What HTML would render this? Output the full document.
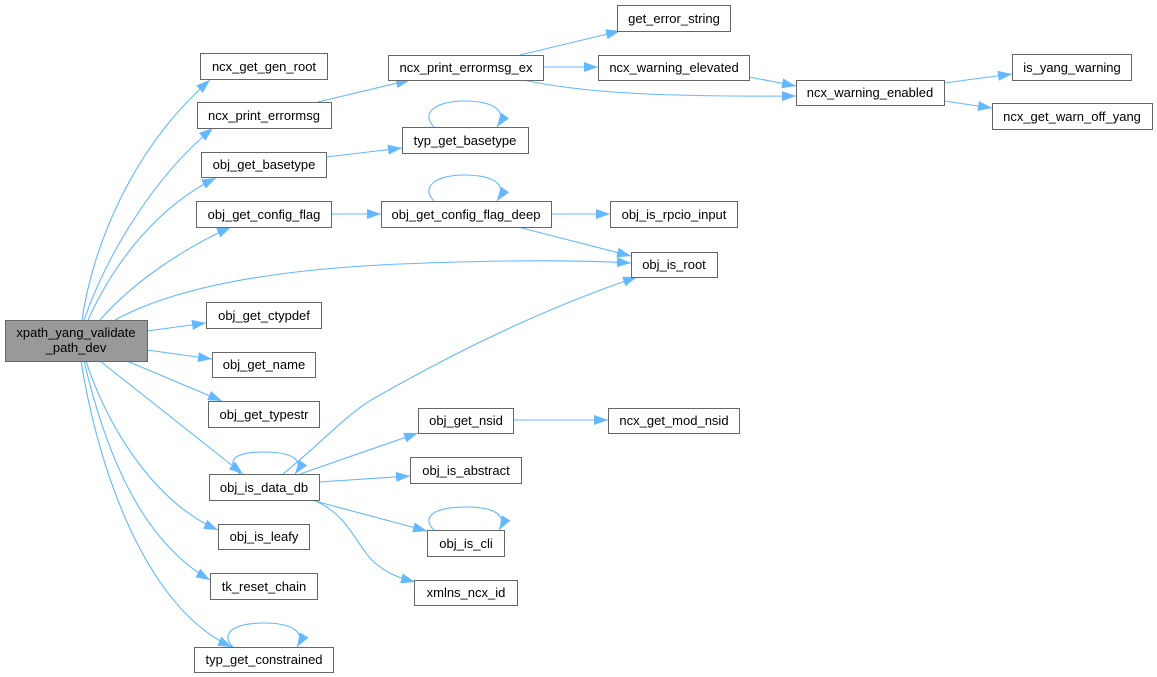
<!DOCTYPE html>
<html><head><meta charset="utf-8"><style>
html,body{margin:0;padding:0;background:#fff;}
svg{display:block;}
text{font-family:"Liberation Sans",Arial,sans-serif;font-size:13px;fill:#000;text-anchor:middle;}
.e{fill:none;stroke:#63b8ff;stroke-width:1.1;marker-end:url(#a);}
.n{fill:#fff;stroke:#666;stroke-width:1;}
</style></head><body>
<svg width="1157" height="677" viewBox="0 0 1157 677" xmlns="http://www.w3.org/2000/svg">
<defs>
<marker id="a" viewBox="0 0 14 10" refX="14" refY="5" markerWidth="14" markerHeight="10" markerUnits="userSpaceOnUse" orient="auto">
<path d="M0,0 L14,5 L0,10 z" fill="#63b8ff"/>
</marker>
</defs>
<!-- edges from main -->
<path class="e" d="M82,320 C92,250 130,150 210,80"/>
<path class="e" d="M84,320 C105,260 150,180 213,128"/>
<path class="e" d="M88,320 C115,260 160,205 216,178"/>
<path class="e" d="M100,320 C130,285 180,250 231,227"/>
<path class="e" d="M115,320 C170,290 260,270 400,264 C500,260 580,260 631,263"/>
<path class="e" d="M147,331 L206,323"/>
<path class="e" d="M147,350 L212,359"/>
<path class="e" d="M127,361 L222,401"/>
<path class="e" d="M100,361 L243,474"/>
<path class="e" d="M86,361 C105,420 150,500 218,530"/>
<path class="e" d="M84,361 C105,450 140,540 210,580"/>
<path class="e" d="M81,361 C100,480 150,610 232,647"/>
<!-- secondary edges -->
<path class="e" d="M318,102 L410,80"/>
<path class="e" d="M326,157 L402,148"/>
<path class="e" d="M331,214 L381,214"/>
<path class="e" d="M434,127 C420,113 436,101 464,101 C494,101 508,111 497,127"/>
<path class="e" d="M434,201 C420,187 436,175 464,175 C494,175 508,185 497,201"/>
<path class="e" d="M520,55 L620,31"/>
<path class="e" d="M543,67 L598,67"/>
<path class="e" d="M523,80 C580,92 650,97 796,96"/>
<path class="e" d="M749,77 L796,86"/>
<path class="e" d="M551,214 L610,214"/>
<path class="e" d="M518,227 L631,256"/>
<path class="e" d="M944,83 L1012,74"/>
<path class="e" d="M944,101 L992,108"/>
<path class="e" d="M283,474 C325,440 350,410 380,395 C450,355 540,310 637,277"/>
<path class="e" d="M240,474 C224,460 236,452 264,452 C292,452 305,460 295,474"/>
<path class="e" d="M300,474 L418,433"/>
<path class="e" d="M513,420 L608,420"/>
<path class="e" d="M319,482 L410,476"/>
<path class="e" d="M311,500 L427,531"/>
<path class="e" d="M313,500 C350,515 355,545 375,563 C390,575 400,578 415,582"/>
<path class="e" d="M434,530 C420,516 436,507 466,507 C494,507 508,515 499,530"/>
<path class="e" d="M233,647 C219,633 235,623 264,623 C292,623 306,632 297,647"/>
<!-- nodes -->
<rect x="5.5" y="320.5" width="142" height="41" fill="#999" stroke="#666"/>
<text x="76" y="337">xpath_yang_validate</text>
<text x="76" y="352">_path_dev</text>

<rect class="n" x="200.5" y="53.5" width="127" height="26"/><text x="264" y="71">ncx_get_gen_root</text>
<rect class="n" x="197.5" y="102.5" width="134" height="26"/><text x="264" y="120">ncx_print_errormsg</text>
<rect class="n" x="201.5" y="152.5" width="125" height="25"/><text x="264" y="169">obj_get_basetype</text>
<rect class="n" x="196.5" y="201.5" width="135" height="26"/><text x="264" y="219">obj_get_config_flag</text>
<rect class="n" x="617.5" y="5.5" width="113" height="26"/><text x="674" y="23">get_error_string</text>
<rect class="n" x="388.5" y="55.5" width="155" height="25"/><text x="466" y="72">ncx_print_errormsg_ex</text>
<rect class="n" x="598.5" y="55.5" width="151" height="25"/><text x="674" y="72">ncx_warning_elevated</text>
<rect class="n" x="402.5" y="127.5" width="126" height="26"/><text x="465" y="145">typ_get_basetype</text>
<rect class="n" x="381.5" y="201.5" width="170" height="26"/><text x="466" y="219">obj_get_config_flag_deep</text>
<rect class="n" x="610.5" y="201.5" width="127" height="26"/><text x="674" y="219">obj_is_rpcio_input</text>
<rect class="n" x="796.5" y="80.5" width="148" height="25"/><text x="870" y="97">ncx_warning_enabled</text>
<rect class="n" x="1012.5" y="54.5" width="119" height="26"/><text x="1072" y="72">is_yang_warning</text>
<rect class="n" x="992.5" y="103.5" width="160" height="26"/><text x="1072" y="121">ncx_get_warn_off_yang</text>
<rect class="n" x="206.5" y="302.5" width="115" height="26"/><text x="264" y="320">obj_get_ctypdef</text>
<rect class="n" x="212.5" y="352.5" width="103" height="25"/><text x="264" y="369">obj_get_name</text>
<rect class="n" x="208.5" y="401.5" width="111" height="26"/><text x="264" y="419">obj_get_typestr</text>
<rect class="n" x="209.5" y="474.5" width="110" height="26"/><text x="264" y="492">obj_is_data_db</text>
<rect class="n" x="218.5" y="524.5" width="91" height="25"/><text x="264" y="541">obj_is_leafy</text>
<rect class="n" x="210.5" y="573.5" width="107" height="26"/><text x="264" y="591">tk_reset_chain</text>
<rect class="n" x="194.5" y="647.5" width="139" height="25"/><text x="264" y="664">typ_get_constrained</text>
<rect class="n" x="631.5" y="252.5" width="86" height="25"/><text x="674" y="269">obj_is_root</text>
<rect class="n" x="418.5" y="408.5" width="95" height="25"/><text x="466" y="425">obj_get_nsid</text>
<rect class="n" x="608.5" y="408.5" width="131" height="25"/><text x="674" y="425">ncx_get_mod_nsid</text>
<rect class="n" x="410.5" y="457.5" width="111" height="26"/><text x="466" y="475">obj_is_abstract</text>
<rect class="n" x="427.5" y="530.5" width="77" height="26"/><text x="466" y="548">obj_is_cli</text>
<rect class="n" x="414.5" y="580.5" width="103" height="25"/><text x="466" y="597">xmlns_ncx_id</text>
</svg>
</body></html>
